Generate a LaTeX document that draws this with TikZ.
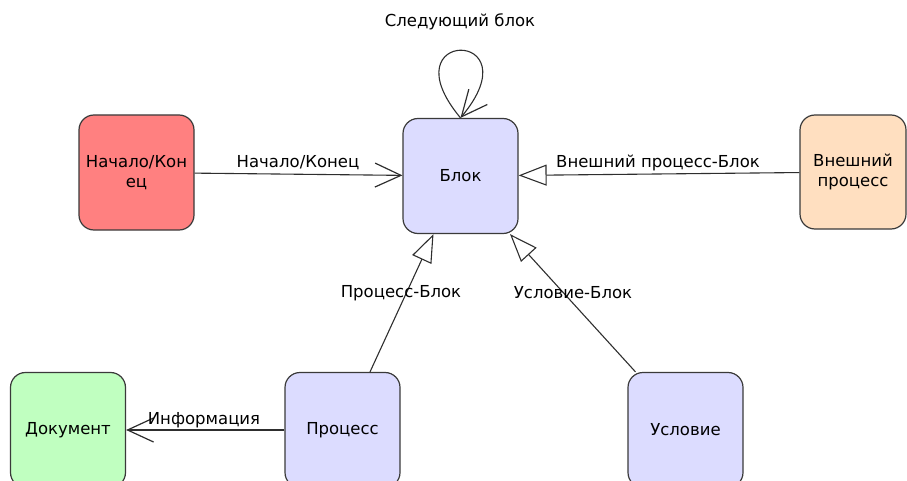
\documentclass[tikz,border=0pt]{standalone}
\usepackage{fontspec}
\setmainfont{DejaVu Sans}
\usetikzlibrary{arrows.meta,calc}
\definecolor{boxline}{HTML}{3A3A3A}
\definecolor{edgeline}{HTML}{2E2E2E}
\definecolor{startfill}{HTML}{FF8080}
\definecolor{blockfill}{HTML}{DCDCFF}
\definecolor{extfill}{HTML}{FFDFC0}
\definecolor{docfill}{HTML}{C0FFC0}
\begin{document}
\begin{tikzpicture}[x=1pt,y=-1pt,
  font=\fontsize{16.5}{20.5}\selectfont,
  box/.style={draw=boxline, line width=1.2pt, rounded corners=15pt,
    minimum width=115pt, minimum height=115pt, inner sep=0pt, align=center},
  link/.style={draw=edgeline, line width=1.1pt},
  openhead/.style={-{Straight Barb[length=26pt,width=24pt,line width=1.2pt]}},
  hollowhead/.style={-{Triangle[open,length=28pt,width=21pt,line width=1.1pt]}},
  lbl/.style={inner sep=0pt, text=black}]
  \useasboundingbox (0,0) rectangle (907,481);
  \clip (0,0) rectangle (907,481);

  % blocks
  \node[box, fill=startfill] (start) at (136.5,172.5) {Начало/Кон\\ец};
  \node[box, fill=blockfill] (blk) at (460.5,176) {Блок};
  \node[box, fill=extfill, minimum width=106pt, minimum height=114pt] (ext) at (853,172) {Внешний\\процесс};
  \node[box, fill=docfill] (doc) at (68,430) {Документ};
  \node[box, fill=blockfill] (proc) at (342.5,430) {Процесс};
  \node[box, fill=blockfill] (cond) at (685.5,430) {Условие};

  % connectors
  \draw[link,openhead] (start) -- (blk);
  \draw[link,hollowhead] (ext) -- (blk);
  \draw[link,hollowhead] ([xshift=27.5pt]proc.north) -- ([xshift=-27pt]blk.south);
  \draw[link,hollowhead] ([xshift=-50pt]cond.north) -- ([xshift=49.5pt]blk.south);
  \draw[link,openhead] (proc) -- (doc);
  \draw[link,openhead] (blk.north) .. controls ($(blk.north)+(-75,-90)$) and ($(blk.north)+(75,-90)$) .. (blk.north);

  % connector labels
  \node[lbl] (lnext) at (460,22) {Следующий блок};
  \node[lbl] (lstart) at (298,163) {Начало/Конец};
  \node[lbl] (lext) at (658,163) {Внешний процесс-Блок};
  \node[lbl] (lproc) at (401,293) {Процесс-Блок};
  \node[lbl] (lcond) at (573,293) {Условие-Блок};
  \node[lbl] (linfo) at (204,420) {Информация};
\end{tikzpicture}
\end{document}
